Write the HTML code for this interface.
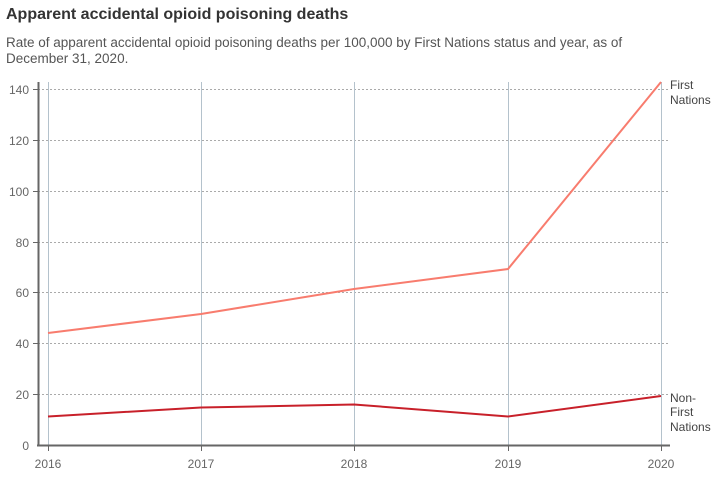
<!DOCTYPE html><html><head><style>
body{margin:0;background:#fff;width:726px;height:482px;overflow:hidden;font-family:"Liberation Sans",sans-serif}
</style></head><body>
<svg width="726" height="482" xmlns="http://www.w3.org/2000/svg" font-family="Liberation Sans, sans-serif">
<text x="6" y="19" font-size="16" font-weight="bold" fill="#333">Apparent accidental opioid poisoning deaths</text>
<text x="6" y="47" font-size="13.5" fill="#555">Rate of apparent accidental opioid poisoning deaths per 100,000 by First Nations status and year, as of</text>
<text x="6" y="63" font-size="13.5" fill="#555">December 31, 2020.</text>
<g stroke="#aaa" stroke-dasharray="2,2" stroke-width="1">
<line x1="38" x2="670" y1="89.5" y2="89.5"/><line x1="38" x2="670" y1="140.5" y2="140.5"/>
<line x1="38" x2="670" y1="191.5" y2="191.5"/><line x1="38" x2="670" y1="242.5" y2="242.5"/>
<line x1="38" x2="670" y1="292.5" y2="292.5"/><line x1="38" x2="670" y1="343.5" y2="343.5"/>
<line x1="38" x2="670" y1="394.5" y2="394.5"/>
</g>
<g stroke="#b4c2cc" stroke-width="1">
<line x1="48.5" x2="48.5" y1="82" y2="445"/><line x1="201.5" x2="201.5" y1="82" y2="445"/>
<line x1="354.5" x2="354.5" y1="82" y2="445"/><line x1="508.5" x2="508.5" y1="82" y2="445"/>
<line x1="661.5" x2="661.5" y1="82" y2="445"/>
</g>
<line x1="38.5" x2="38.5" y1="82" y2="446" stroke="#666" stroke-width="2"/>
<line x1="37" x2="670" y1="445.5" y2="445.5" stroke="#666" stroke-width="2"/>
<g stroke="#666" stroke-width="1">
<line x1="33" x2="38" y1="89.5" y2="89.5"/><line x1="33" x2="38" y1="140.5" y2="140.5"/><line x1="33" x2="38" y1="191.5" y2="191.5"/><line x1="33" x2="38" y1="242.5" y2="242.5"/><line x1="33" x2="38" y1="292.5" y2="292.5"/><line x1="33" x2="38" y1="343.5" y2="343.5"/><line x1="33" x2="38" y1="394.5" y2="394.5"/>
<line x1="48.5" x2="48.5" y1="445" y2="451"/><line x1="201.5" x2="201.5" y1="445" y2="451"/><line x1="354.5" x2="354.5" y1="445" y2="451"/><line x1="508.5" x2="508.5" y1="445" y2="451"/><line x1="661.5" x2="661.5" y1="445" y2="451"/>
</g>
<g font-size="12" fill="#666" text-anchor="end">
<text x="29" y="94">140</text><text x="29" y="145">120</text><text x="29" y="196">100</text><text x="29" y="247">80</text><text x="29" y="297">60</text><text x="29" y="348">40</text><text x="29" y="399">20</text><text x="29" y="450">0</text>
</g>
<g font-size="12" fill="#666" text-anchor="middle">
<text x="48" y="468">2016</text><text x="201" y="468">2017</text><text x="354" y="468">2018</text><text x="508" y="468">2019</text><text x="661" y="468">2020</text>
</g>
<polyline fill="none" stroke="#f87c6e" stroke-width="2" points="48,333 201,314 354,289 508,269 661,82"/>
<polyline fill="none" stroke="#c8202a" stroke-width="2" points="48,416.5 201,407.5 354,404.5 508,416.5 661,396"/>
<g font-size="12" fill="#444">
<text x="670" y="89">First</text><text x="670" y="104">Nations</text>
<text x="670" y="402">Non-</text><text x="670" y="416">First</text><text x="670" y="431">Nations</text>
</g>
</svg>
</body></html>
